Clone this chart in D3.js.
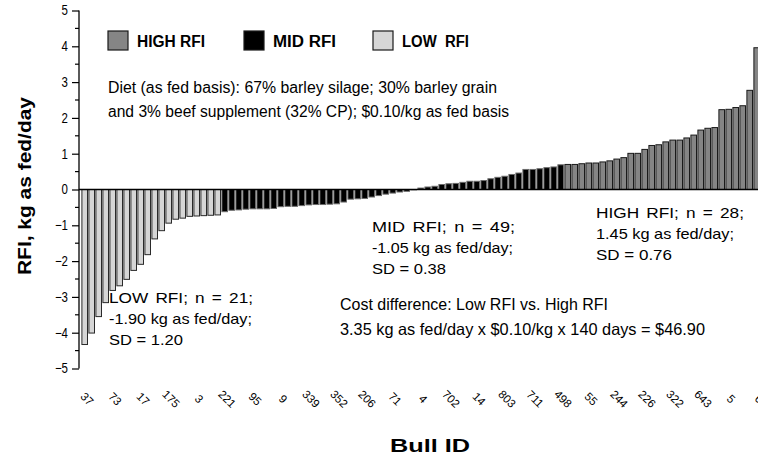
<!DOCTYPE html>
<html><head><meta charset="utf-8">
<script src="https://cdn.jsdelivr.net/npm/d3@7"></script>
<style>
body{margin:0;background:#fff;}
svg{display:block;}
text{font-family:"Liberation Sans",Arial,sans-serif;}
</style></head>
<body><svg id="c" width="758" height="459"></svg>
<script>
// ---- data ----
const lowRFI = [-4.33,-4.01,-3.55,-3.16,-2.82,-2.69,-2.51,-2.26,-2.09,-1.82,
  -1.38,-1.15,-0.94,-0.83,-0.80,-0.75,-0.74,-0.73,-0.72,-0.71];
const midRFI = [-0.62,-0.58,-0.57,-0.55,-0.54,-0.54,-0.54,-0.53,-0.48,-0.47,
  -0.47,-0.45,-0.43,-0.42,-0.42,-0.41,-0.40,-0.35,-0.27,-0.26,
  -0.25,-0.21,-0.17,-0.13,-0.10,-0.07,-0.05,-0.01,0.04,0.07,
  0.09,0.14,0.16,0.17,0.20,0.23,0.23,0.25,0.30,0.34,
  0.37,0.42,0.46,0.56,0.56,0.58,0.61,0.63,0.69];
const highRFI = [0.70,0.70,0.72,0.74,0.74,0.77,0.80,0.85,0.89,1.01,
  1.01,1.12,1.23,1.25,1.33,1.38,1.38,1.44,1.52,1.66,
  1.71,1.73,2.23,2.24,2.29,2.34,2.77,3.96];
const tickLabels = ["37","73","17","175","3","221","95","9","339","352","206","71",
  "4","702","14","803","711","498","55","244","226","322","643","5","6"];
const labelStep = 4;
const yTicks = [-5,-4,-3,-2,-1,0,1,2,3,4,5];
const groups = [
  {name:"HIGH RFI", fill:"#858585", stroke:"#1a1a1a"},
  {name:"MID RFI", fill:"#000000", stroke:"#6a6a6a"},
  {name:"LOW  RFI", fill:"#d6d6d6", stroke:"#2a2a2a"}
];

const bars = [];
lowRFI.forEach(v=>bars.push({v, g:2}));
midRFI.forEach(v=>bars.push({v, g:1}));
highRFI.forEach(v=>bars.push({v, g:0}));
bars.forEach((d,i)=>d.i=i);

const svg = d3.select("#c");
const x = d3.scaleBand().domain(bars.map(d=>d.i)).range([80.7, 80.7+bars.length*7]).paddingInner(0.2).paddingOuter(0.1);
const y = d3.scaleLinear().domain([-5,5]).range([368.5,10.5]);

// bars
svg.append("g").selectAll("rect").data(bars).join("rect")
  .attr("x", d=>x(d.i)+0.5)
  .attr("width", x.bandwidth())
  .attr("y", d=>Math.min(y(d.v), y(0)))
  .attr("height", d=>Math.abs(y(d.v)-y(0)))
  .attr("fill", d=>groups[d.g].fill)
  .attr("stroke", d=>groups[d.g].stroke)
  .attr("stroke-width", 1);

// zero line
svg.append("line").attr("x1",79).attr("x2",758).attr("y1",y(0)).attr("y2",y(0))
  .attr("stroke","#000").attr("stroke-width",1.3);

// y axis
const yAxis = d3.axisLeft(y).tickValues(yTicks).tickSize(7).tickFormat(d3.format("d"));
const ga = svg.append("g").attr("transform","translate(79,0)").call(yAxis);
ga.select(".domain").attr("stroke","#000").attr("stroke-width",1.3).attr("d","M0,"+y(5)+"V"+y(-5));
ga.selectAll(".tick text").style("font-size","14px").style("font-family","Liberation Sans, Arial, sans-serif")
  .attr("fill","#000").attr("x",-11/0.82).attr("transform","scale(0.82,1)");
ga.selectAll(".tick line").attr("stroke","#000").attr("stroke-width",1.2);
const minor = d3.range(-4.5,5,1);
svg.append("g").selectAll("line").data(minor).join("line")
  .attr("x1",75).attr("x2",79).attr("y1",d=>y(d)).attr("y2",d=>y(d))
  .attr("stroke","#000").attr("stroke-width",1.2);

// x tick labels
svg.append("g").selectAll("text").data(tickLabels).join("text")
  .attr("transform",(d,k)=>{const cx = x(k*labelStep)+x.bandwidth()/2+3; return `translate(${cx},399) rotate(45)`;})
  .attr("text-anchor","middle").attr("dy","0.35em")
  .style("font-size","11.5px")
  .text(d=>d);

// helper for condensed text: fit to measured width
function ctext(sel, str, w){
  sel.text(str).attr("textLength", w).attr("lengthAdjust","spacingAndGlyphs");
  return sel;
}

// axis titles
ctext(svg.append("text").attr("transform","translate(31,186) rotate(-90)")
  .attr("text-anchor","middle").style("font-size","19px").style("font-weight","bold"), "RFI, kg as fed/day", 178);
ctext(svg.append("text").attr("x",430).attr("y",452)
  .attr("text-anchor","middle").style("font-size","19px").style("font-weight","bold"), "Bull ID", 80);

// legend
const legX = [108, 244, 373];
const legW = [68, 63, 67];
const lg = svg.append("g").selectAll("g").data(groups).join("g")
  .attr("transform",(d,k)=>`translate(${legX[k]},31)`);
lg.append("rect").attr("width",20).attr("height",19).attr("fill",d=>d.fill).attr("stroke","#1a1a1a").attr("stroke-width",1.2);
lg.append("text").attr("x",29).attr("y",16).style("font-size","16px").style("font-weight","bold")
  .attr("xml:space","preserve").style("white-space","pre")
  .each(function(d,k){ ctext(d3.select(this), d.name, legW[k]); });

// annotations
function block(x0, y0, lines, widths, size, lh, wsFirst){
  lines.forEach((l,k)=>{
    const t = svg.append("text").attr("x",x0).attr("y",y0+k*lh).style("font-size",size+"px");
    if(k===0 && wsFirst) t.style("word-spacing", wsFirst+"px");
    ctext(t, l, widths[k]);
  });
}
block(108, 93, ["Diet (as fed basis): 67% barley silage; 30% barley grain",
  "and 3% beef supplement (32% CP); $0.10/kg as fed basis"], [389, 401], 16, 24, 0);
block(109, 303, ["LOW RFI; n = 21;","-1.90 kg as fed/day;","SD = 1.20"], [144, 143, 74], 14.5, 21, 2);
block(372, 232, ["MID RFI; n = 49;","-1.05 kg as fed/day;","SD = 0.38"], [143, 141, 74], 14.5, 21, 2);
block(596, 218, ["HIGH RFI; n = 28;","1.45 kg as fed/day;","SD = 0.76"], [148, 138, 76], 14.5, 21, 2);
block(340, 310, ["Cost difference: Low RFI vs. High RFI",
  "3.35 kg as fed/day x $0.10/kg x 140 days = $46.90"], [268, 365], 16.5, 25, 0);
</script></body></html>
